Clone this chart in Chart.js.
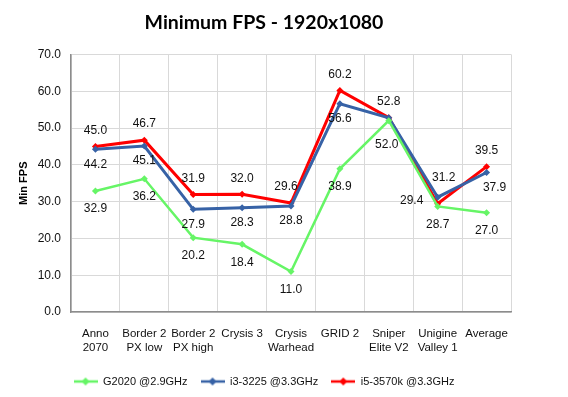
<!DOCTYPE html>
<html>
<head>
<meta charset="utf-8">
<script src="https://cdn.jsdelivr.net/npm/chart.js@4/dist/chart.umd.min.js"></script>
<style>
  html, body { margin: 0; padding: 0; background: #fff; }
  #wrap { width: 568px; height: 397px; }
</style>
</head>
<body>
<div id="wrap"><canvas id="fps-chart" width="568" height="397"></canvas></div>
<script>
const games = [['Anno', '2070'], ['Border 2', 'PX low'], ['Border 2', 'PX high'], ['Crysis 3'],
  ['Crysis', 'Warhead'], ['GRID 2'], ['Sniper', 'Elite V2'], ['Unigine', 'Valley 1'], ['Average']];
const g2020 = [32.9, 36.2, 20.2, 18.4, 11.0, 38.9, 52.0, 28.7, 27.0];
const i3 = [44.2, 45.1, 27.9, 28.3, 28.8, 56.6, 52.8, 31.2, 37.9];
const i5 = [45.0, 46.7, 31.9, 32.0, 29.6, 60.2, 52.8, 29.4, 39.5];
const yTicks = [0, 10, 20, 30, 40, 50, 60, 70];

// where each value label sits relative to its point (dx, dy); null = hidden
const labelOffsets = [
  { def: [0, 18], at: { 6: [-2, 24] } },
  { def: [0, 15], at: { 6: null, 7: [6, -19], 8: [8, 15] } },
  { def: [0, -16], at: { 4: [-5, -16], 7: [-26, -3] } }
];

// little line+diamond marker for the legend
function legendMark(color) {
  const c = document.createElement('canvas');
  c.width = 24; c.height = 10;
  const x = c.getContext('2d');
  x.strokeStyle = color; x.lineWidth = 2.5;
  x.beginPath(); x.moveTo(0, 5); x.lineTo(24, 5); x.stroke();
  x.fillStyle = color;
  x.beginPath(); x.moveTo(12, 1); x.lineTo(16, 5); x.lineTo(12, 9); x.lineTo(8, 5); x.closePath(); x.fill();
  return c;
}

const valueLabels = {
  id: 'valueLabels',
  afterDatasetsDraw(chart) {
    const ctx = chart.ctx;
    ctx.save();
    ctx.font = '12px "Liberation Sans"';
    ctx.fillStyle = '#111';
    ctx.textAlign = 'center';
    ctx.textBaseline = 'middle';
    chart.data.datasets.forEach((ds, di) => {
      const meta = chart.getDatasetMeta(di);
      const cfg = labelOffsets[di];
      meta.data.forEach((pt, i) => {
        const off = (i in cfg.at) ? cfg.at[i] : cfg.def;
        if (!off) return;
        ctx.fillText(ds.data[i].toFixed(1), pt.x + off[0], pt.y + off[1]);
      });
    });
    ctx.restore();
  }
};

const series = [
  { label: 'G2020 @2.9GHz', data: g2020, color: '#66f566', width: 2.5 },
  { label: 'i3-3225 @3.3GHz', data: i3, color: '#3762a6', width: 3 },
  { label: 'i5-3570k @3.3GHz', data: i5, color: '#ff0000', width: 3 }
];

new Chart(document.getElementById('fps-chart'), {
  type: 'line',
  data: {
    labels: games,
    datasets: series.map(s => ({
      label: s.label,
      data: s.data,
      borderColor: s.color,
      backgroundColor: s.color,
      borderWidth: s.width,
      pointStyle: 'rectRot',
      pointRadius: 3.5,
      pointBorderWidth: 0,
      tension: 0,
      fill: false
    }))
  },
  options: {
    responsive: false,
    animation: false,
    layout: { padding: { left: 17, right: 57, top: 0, bottom: 0 } },
    scales: {
      x: {
        offset: true,
        grid: { offset: true, color: '#d9d9d9', drawTicks: false },
        border: { color: '#8c8c8c', width: 1.5 },
        ticks: {
          color: '#111', font: { family: 'Liberation Sans', size: 11.5 },
          padding: 15, maxRotation: 0, autoSkip: false
        },
        afterFit(scale) { scale.height = 51; }
      },
      y: {
        min: 0, max: 70,
        afterBuildTicks(scale) { scale.ticks = yTicks.map(v => ({ value: v })); },
        grid: { color: '#d9d9d9', drawTicks: false },
        border: { color: '#8c8c8c', width: 1.5 },
        ticks: {
          color: '#111', font: { family: 'Liberation Sans', size: 12 },
          padding: 10, callback: v => v.toFixed(1)
        },
        title: {
          display: true, text: 'Min FPS', color: '#000',
          font: { family: 'Liberation Sans', size: 11, weight: 'bold' }, padding: 0
        },
        afterFit(scale) { scale.width = 54; }
      }
    },
    plugins: {
      title: {
        display: true, text: 'Minimum FPS - 1920x1080', color: '#000',
        font: { family: 'Lato', size: 19.5, weight: 'bold' },
        padding: { top: 11, bottom: 20 }
      },
      legend: {
        position: 'bottom',
        labels: {
          color: '#111', font: { family: 'Liberation Sans', size: 11 },
          usePointStyle: true, pointStyleWidth: 24, boxHeight: 10, padding: 13,
          generateLabels(chart) {
            return chart.data.datasets.map((ds, i) => ({
              text: ds.label, pointStyle: legendMark(ds.borderColor),
              fillStyle: ds.borderColor, strokeStyle: ds.borderColor,
              lineWidth: 0, hidden: false, datasetIndex: i, fontColor: '#111'
            }));
          }
        }
      },
      tooltip: { enabled: false }
    }
  },
  plugins: [valueLabels]
});
</script>
</body>
</html>
